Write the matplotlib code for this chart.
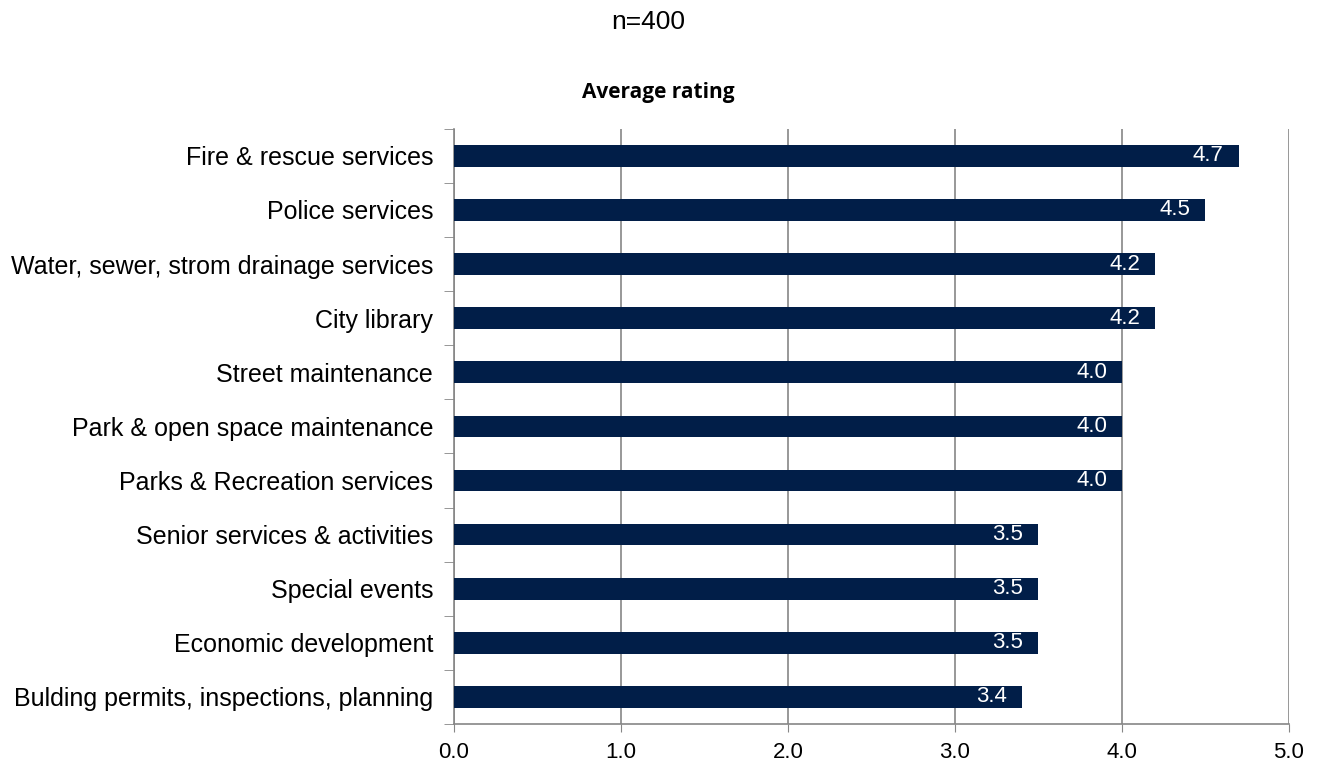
import numpy as np
import matplotlib.pyplot as plt

plt.rcParams['font.family'] = ['Liberation Sans', 'DejaVu Sans']

services = ['Fire & rescue services', 'Police services',
            'Water, sewer, strom drainage services', 'City library',
            'Street maintenance', 'Park & open space maintenance',
            'Parks & Recreation services', 'Senior services & activities',
            'Special events', 'Economic development',
            'Bulding permits, inspections, planning']
ratings = [4.7, 4.5, 4.2, 4.2, 4.0, 4.0, 4.0, 3.5, 3.5, 3.5, 3.4]
xticks = [0.0, 1.0, 2.0, 3.0, 4.0, 5.0]

fig = plt.figure(figsize=(13.17, 7.7), dpi=100)
ax = fig.add_axes([0.3447, 0.0597, 0.634, 0.773])

y = np.arange(len(services))[::-1]
ax.barh(y, ratings, height=0.4, color='#011E48', zorder=3)
for yi, v in zip(y, ratings):
    ax.text(v - 0.09, yi, f'{v:.1f}', color='white', ha='right', va='center',
            fontsize=16, zorder=4)

ax.set_xlim(0, 5)
ax.set_ylim(-0.5, len(services) - 0.5)
ax.set_xticks(xticks)
ax.set_xticklabels([f'{t:.1f}' for t in xticks], fontsize=16)
ax.set_yticks(y)
ax.set_yticklabels(services, fontsize=18)
ax.tick_params(axis='y', length=0, pad=15)
ax.set_yticks(np.arange(-0.5, len(services)), minor=True)
ax.tick_params(axis='y', which='minor', length=7, color='#868686')
ax.tick_params(axis='x', length=6, color='#868686', pad=7)
ax.grid(axis='x', color='#868686', linewidth=1.2, zorder=0)
for s in ['top', 'right']:
    ax.spines[s].set_visible(False)
for s in ['left', 'bottom']:
    ax.spines[s].set_color('#868686')
    ax.spines[s].set_linewidth(1.2)

fig.text(0.492, 0.971, 'n=400', ha='center', va='center', fontsize=19)
fig.text(0.4995, 0.880, 'Average rating', ha='center', va='center',
         fontsize=15, fontweight='bold', family=['Open Sans', 'DejaVu Sans'])

fig.savefig('out.png', dpi=100)
